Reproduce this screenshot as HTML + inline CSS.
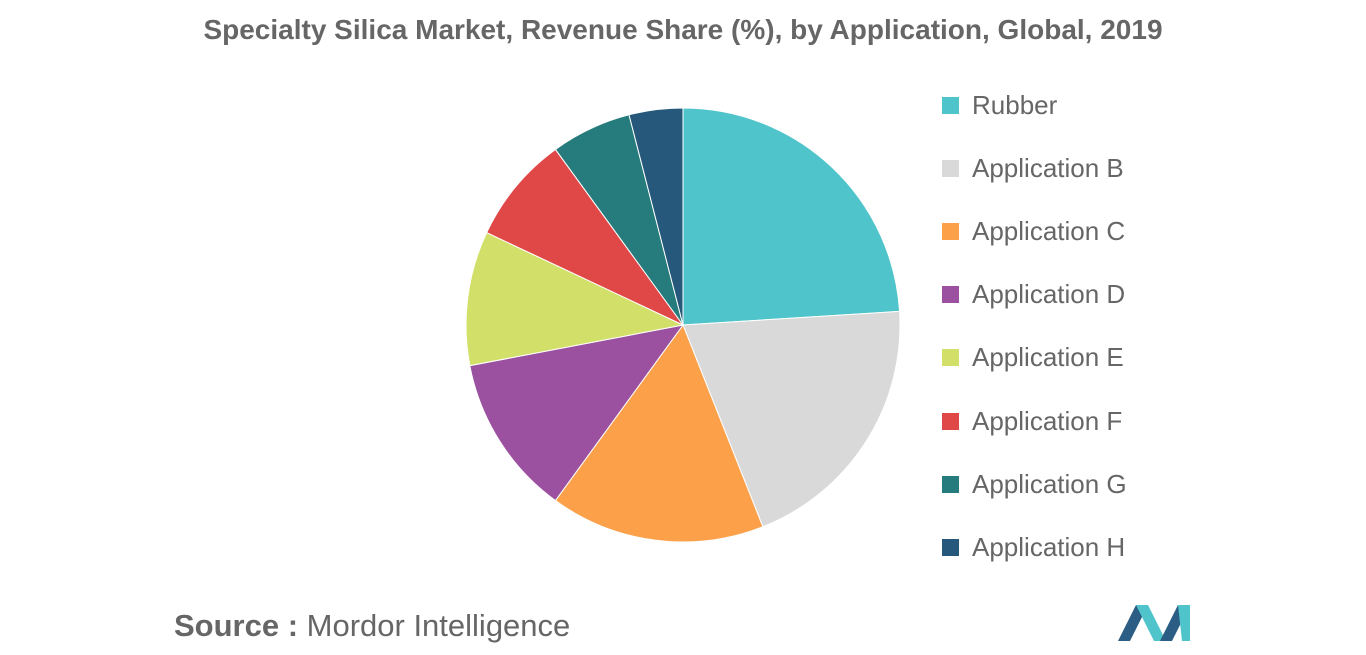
<!DOCTYPE html>
<html><head><meta charset="utf-8"><style>
body{margin:0;width:1366px;height:655px;background:#fff;font-family:"Liberation Sans",sans-serif;overflow:hidden;position:relative}
.title{position:absolute;top:14px;left:0;width:1366px;text-align:center;font-size:28px;font-weight:bold;color:#666}
.leg{position:absolute;left:942px;font-size:26px;color:#666;display:flex;align-items:center}
.leg span{display:inline-block;width:17px;height:17px;margin-right:13px}
.src{position:absolute;left:174px;top:608px;font-size:31px;color:#666}
</style></head><body>
<div class="title">Specialty Silica Market, Revenue Share (%), by Application, Global, 2019</div>
<svg id="pie" width="1366" height="655" style="position:absolute;left:0;top:0"></svg>
<div id="legend"></div>
<div class="src"><b>Source :</b> Mordor Intelligence</div>
<svg width="80" height="40" style="position:absolute;left:1116px;top:603px">
<polygon points="2,38 20,2 32,2 14,38" fill="#2b5d85"/><polygon points="20,2 32,2 50,38 38,38" fill="#4fc4ca"/>
<polygon points="44,38 62,2 74,2 56,38" fill="#2b5d85"/><polygon points="62,2 74,2 74,38 66,38" fill="#4fc4ca"/>
</svg>
<script>
const categories=["Rubber","Application B","Application C","Application D","Application E","Application F","Application G","Application H"];
const values=[24,20,16,12,10,8,6,4];
const colors=["#4fc4ca","#d9d9d9","#fca04a","#9b51a0","#d2e06a","#e04848","#267b7d","#25587a"];
const svg=document.getElementById('pie');const ns="http://www.w3.org/2000/svg";
const cx=683,cy=325,r=217;const tot=values.reduce((a,b)=>a+b,0);let a0=0;
values.forEach((v,i)=>{const a1=a0+v/tot*2*Math.PI;
const x0=cx+r*Math.sin(a0),y0=cy-r*Math.cos(a0),x1=cx+r*Math.sin(a1),y1=cy-r*Math.cos(a1);
const p=document.createElementNS(ns,'path');
p.setAttribute('d',`M${cx},${cy}L${x0},${y0}A${r},${r} 0 ${a1-a0>Math.PI?1:0} 1 ${x1},${y1}Z`);
p.setAttribute('fill',colors[i]);p.setAttribute('stroke','#fff');p.setAttribute('stroke-width','1');


svg.appendChild(p);a0=a1;});
const lg=document.getElementById('legend');
categories.forEach((c,i)=>{const d=document.createElement('div');d.className='leg';
d.style.top=(90+i*63.1)+'px';d.innerHTML='<span style="background:'+colors[i]+'"></span>'+c;


lg.appendChild(d);});
</script>
</body></html>
